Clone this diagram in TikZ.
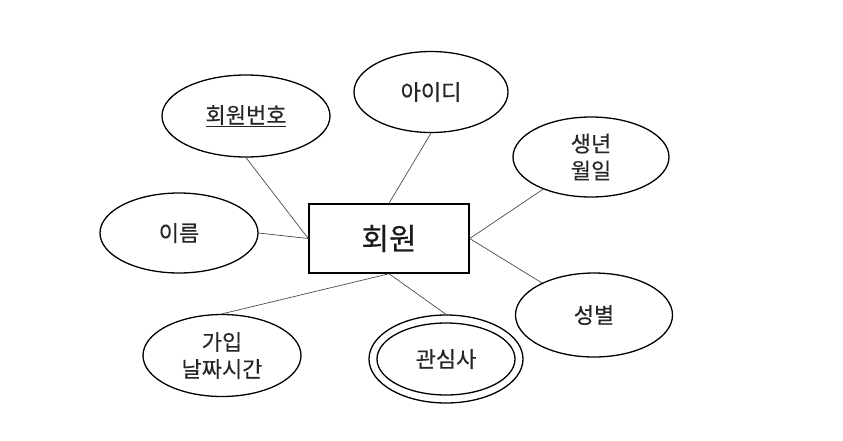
\documentclass[tikz,border=0pt]{standalone}
\usepackage{fontspec}
\setmainfont{Noto Sans CJK KR}[FakeBold=0.35]
\usetikzlibrary{shapes.geometric}
\tikzset{
  attr/.style={ellipse, draw=black, line width=1.3pt, inner sep=0pt, font=\fontsize{22pt}{27pt}\selectfont, align=center, text=black!85},
  ent/.style={rectangle, draw=black, line width=1.5pt, inner sep=0pt, minimum width=160pt, minimum height=69pt, font=\fontsize{30pt}{34pt}\selectfont, text=black!90},
  link/.style={draw=black!70, line width=0.7pt}
}
\begin{document}
\begin{tikzpicture}[x=1pt,y=-1pt]
\useasboundingbox[fill=white] (0,0) rectangle (843,440);
\node[ent] (r) at (389,238.5) {회원};
\node[attr, minimum width=168pt, minimum height=82pt] (hb) at (246,116) {\underline{회원번호}};
\node[attr, minimum width=154pt, minimum height=81pt] (id) at (431,92) {아이디};
\node[attr, minimum width=156pt, minimum height=80pt] (bd) at (591,157) {생년\\월일};
\node[attr, minimum width=157pt, minimum height=84pt] (gd) at (594,315) {성별};
\node[attr, minimum width=158pt, minimum height=80pt] (nm) at (179,233) {이름};
\node[attr, minimum width=158pt, minimum height=82pt] (jn) at (222,355.5) {가입\\날짜시간};
\node[attr, minimum width=154pt, minimum height=88pt] (it) at (446,359) {};
\node[attr, minimum width=138pt, minimum height=72pt] (iti) at (446,359) {관심사};
\draw[link] (hb.south) -- (r.west);
\draw[link] (nm.east) -- (r.west);
\draw[link] (id.south) -- (r.north);
\draw[link] (bd) -- (r.east);
\draw[link] (gd) -- (r.east);
\draw[link] (jn.north) -- (r.south);
\draw[link] (it.north) -- (r.south);
\end{tikzpicture}
\end{document}
